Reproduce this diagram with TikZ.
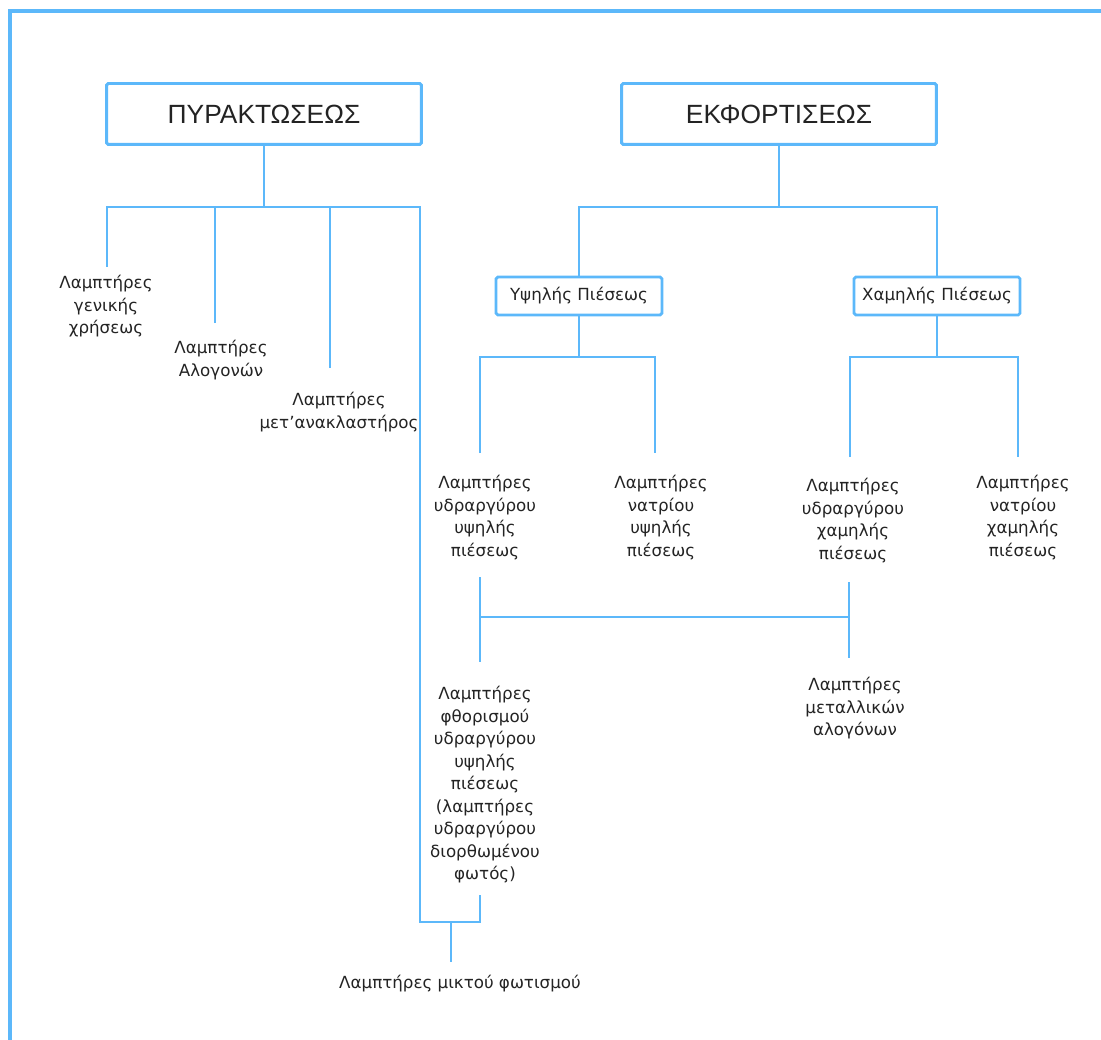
\documentclass[tikz,border=0pt]{standalone}
\usepackage{fontspec}
\setmainfont{DejaVu Sans}
\newfontfamily\titlefont{Liberation Sans}
\usetikzlibrary{positioning}
\definecolor{lineblue}{RGB}{92,184,250}
\definecolor{inkgray}{RGB}{35,35,35}
\tikzset{
  conn/.style={draw=lineblue, line width=1.4pt},
  mainbox/.style={draw=lineblue, line width=1.7pt, rounded corners=1pt, minimum width=6.3cm, minimum height=1.22cm, text=inkgray, font=\titlefont\fontsize{15}{18}\selectfont},
  subbox/.style={draw=lineblue, line width=1.6pt, rounded corners=1pt, minimum width=3.32cm, minimum height=0.76cm, text=inkgray, font=\fontsize{9.5}{12.8}\selectfont},
  lamp/.style={align=center, inner sep=0pt, anchor=north, text=inkgray, font=\fontsize{9.5}{12.8}\selectfont}
}
\begin{document}
\begin{tikzpicture}[x=0.02cm, y=-0.02cm]
\useasboundingbox (0,0) rectangle (1101,1040);
% frame
\draw[draw=lineblue, line width=2.3pt] (10,1040) -- (10,11) -- (1101,11);

% main headings
\node[mainbox] (pyr) at (264,114) {ΠΥΡΑΚΤΩΣΕΩΣ};
\node[mainbox] (ekf) at (779,114) {ΕΚΦΟΡΤΙΣΕΩΣ};
\node[subbox] (ypsil) at (579,296) {Υψηλής Πιέσεως};
\node[subbox] (xamil) at (937,296) {Χαμηλής Πιέσεως};

% lamps
\node[lamp] (gen) at (106,275) {Λαμπτήρες\\γενικής\\χρήσεως};
\node[lamp] (alog) at (221,340) {Λαμπτήρες\\Αλογονών};
\node[lamp] (metan) at (339,392) {Λαμπτήρες\\μετ’ανακλαστήρος};
\node[lamp] (yydr) at (485,475) {Λαμπτήρες\\υδραργύρου\\υψηλής\\πιέσεως};
\node[lamp] (ynat) at (661,475) {Λαμπτήρες\\νατρίου\\υψηλής\\πιέσεως};
\node[lamp] (xydr) at (853,478) {Λαμπτήρες\\υδραργύρου\\χαμηλής\\πιέσεως};
\node[lamp] (xnat) at (1023,475) {Λαμπτήρες\\νατρίου\\χαμηλής\\πιέσεως};
\node[lamp] (fthor) at (485,686) {Λαμπτήρες\\φθορισμού\\υδραργύρου\\υψηλής\\πιέσεως\\(λαμπτήρες\\υδραργύρου\\διορθωμένου\\φωτός)};
\node[lamp] (metal) at (855,677) {Λαμπτήρες\\μεταλλικών\\αλογόνων};
\node[lamp] (mikt) at (460,975) {Λαμπτήρες μικτού φωτισμού};

% bus points and free ends
\coordinate (pbus) at (264,207);
\coordinate (ebus) at (779,207);
\coordinate (ybus) at (579,357);
\coordinate (xbus) at (937,357);
\coordinate (genend) at (107,267);
\coordinate (alogend) at (215,323);
\coordinate (metanend) at (330,368);
\coordinate (yydrend) at (480,453);
\coordinate (ynatend) at (655,453);
\coordinate (xydrend) at (850,457);
\coordinate (xnatend) at (1018,457);
\coordinate (mixleft) at (420,922);
\coordinate (mixright) at (480,922);
\coordinate (mixtop) at (480,895);
\coordinate (mixjoin) at (451,922);
\coordinate (mixend) at (451,962);

% pyraktoseos
\draw[conn] (pyr.south) -- (pbus);
\draw[conn] (genend) |- (pbus) -| (mixleft) -- (mixright) -- (mixtop);
\draw[conn] (alogend) -- (alogend |- pbus);
\draw[conn] (metanend) -- (metanend |- pbus);
\draw[conn] (mixjoin) -- (mixend);

% ekfortiseos
\draw[conn] (ekf.south) -- (ebus);
\draw[conn] (ypsil.north) |- (ebus) -| (xamil.north);
\draw[conn] (ypsil.south) -- (ybus);
\draw[conn] (yydrend) |- (ybus) -| (ynatend);
\draw[conn] (xamil.south) -- (xbus);
\draw[conn] (xydrend) |- (xbus) -| (xnatend);

% metal halide link
\draw[conn] (480,577) -- (480,662);
\draw[conn] (849,582) -- (849,658);
\draw[conn] (480,617) -- (849,617);
\end{tikzpicture}
\end{document}
